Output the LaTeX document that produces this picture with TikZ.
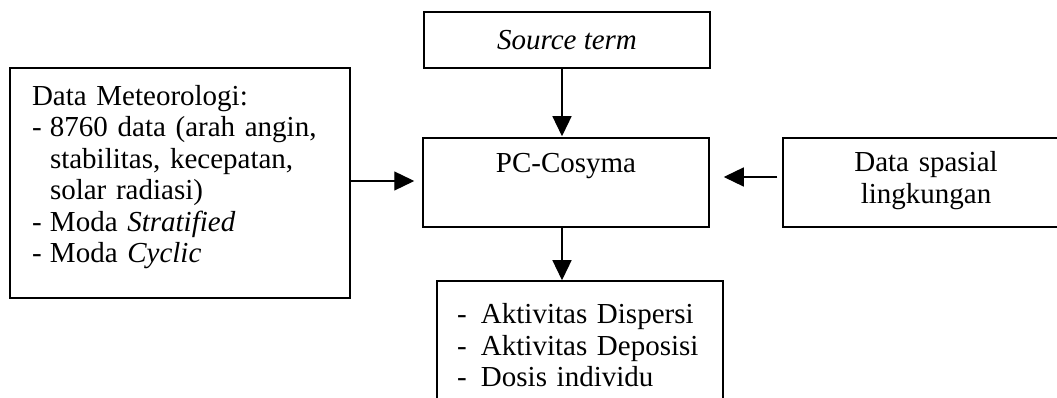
\documentclass[tikz,border=0pt]{standalone}
\usepackage{fontspec}
\setmainfont{Liberation Serif}
\usetikzlibrary{arrows.meta}
\newcommand{\dashitem}[2]{\makebox[#1][l]{-}#2}
\begin{document}
\begin{tikzpicture}[x=1pt,y=1pt,
  box/.style={draw, line width=1.5pt, rectangle, font=\fontsize{29}{31}\selectfont,
    execute at begin node={\setlength{\baselineskip}{31.5pt}}},
  arr/.style={line width=1.3pt, -{Triangle[length=20pt,width=19pt]}}]
\useasboundingbox (0,0) rectangle (1057,398);
\clip (0,0) rectangle (1057,398);
\node[box, minimum width=286pt, minimum height=56pt, inner sep=0pt] (src) at (567,358) {\textit{Source term}};
\node[box, minimum width=286pt, inner sep=0pt, text height=35pt, text depth=54pt, text width=286pt, align=center] (pc) at (566,215.5) {PC-Cosyma};
\node[box, minimum width=340pt, minimum height=230pt, inner xsep=22pt, text width=296pt, align=left] (met) at (180,215)
 {Data Meteorologi:\\
  \dashitem{18pt}{8760 data (arah angin,}\\
  \hspace*{18pt}stabilitas, kecepatan,\\
  \hspace*{18pt}solar radiasi)\\
  \dashitem{18pt}{Moda \textit{Stratified}}\\
  \dashitem{18pt}{Moda \textit{Cyclic}\rule[-18pt]{0pt}{0pt}}};
\node[box, minimum width=286pt, minimum height=89pt, inner xsep=0pt, text width=286pt, align=center] (spa) at (926,215.5)
 {Data spasial\\lingkungan\rule[-10pt]{0pt}{0pt}};
\node[box, minimum width=286pt, minimum height=129pt, inner xsep=20pt, text width=246pt, align=left] (out) at (580,52.5)
 {\dashitem{24pt}{Aktivitas Dispersi}\\
  \dashitem{24pt}{Aktivitas Deposisi}\\
  \dashitem{24pt}{Dosis individu}};
\draw[arr] ([xshift=-5pt]src.south) -- ([xshift=-4pt,yshift=1pt]pc.north);
\draw[arr] ([yshift=2pt]met.east) -- ([xshift=-8pt,yshift=1.5pt]pc.west);
\draw[arr] ([xshift=-5pt,yshift=5.5pt]spa.west) -- ([xshift=14pt,yshift=5.5pt]pc.east);
\draw[arr] ([xshift=-4pt]pc.south) -- ([xshift=-18pt]out.north);
\end{tikzpicture}
\end{document}
